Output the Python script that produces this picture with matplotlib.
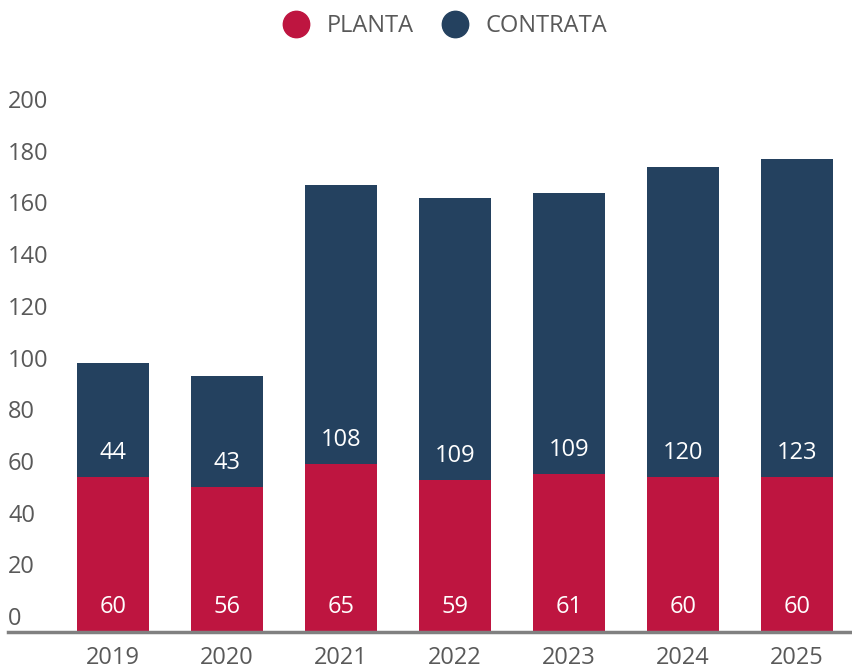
import matplotlib
matplotlib.use("Agg")
import matplotlib.pyplot as plt
from matplotlib.lines import Line2D
from matplotlib import transforms

plt.rcParams['font.family'] = ['Open Sans', 'DejaVu Sans']

years = ["2019", "2020", "2021", "2022", "2023", "2024", "2025"]
planta = [60, 56, 65, 59, 61, 60, 60]
contrata = [44, 43, 108, 109, 109, 120, 123]
yticks = [0, 20, 40, 60, 80, 100, 120, 140, 160, 180, 200]

RED = "#BE1540"
NAVY = "#24415F"
GRAY = "#595959"
FS = 17

fig = plt.figure(figsize=(8.53, 6.70), dpi=100)
ax = fig.add_axes([0.0094, 0.0567, 0.9906, 0.7716])

x = list(range(len(years)))
w = 0.63
ax.bar(x, planta, width=w, color=RED)
ax.bar(x, contrata, width=w, bottom=planta, color=NAVY)

for i in x:
    ax.annotate(str(planta[i]), (i, 0), xytext=(0, 25), textcoords="offset pixels",
                ha="center", va="center", color="white", fontsize=FS)
    ax.annotate(str(contrata[i]), (i, planta[i]), xytext=(0, 24), textcoords="offset pixels",
                ha="center", va="center", color="white", fontsize=FS)

ax.set_xlim(-0.92, 6.49)
ax.set_ylim(0, 200)
ax.set_xticks(x)
ax.set_xticklabels(years, fontsize=FS, color=GRAY)
ax.tick_params(axis="x", length=0, pad=10)
ax.set_yticks([])

trans = transforms.blended_transform_factory(ax.transAxes, ax.transData)
for v in yticks:
    ax.annotate(str(v), (0, v), xycoords=trans, xytext=(0, 7), textcoords="offset pixels",
                ha="left", va="baseline", color=GRAY, fontsize=FS)

for s in ["top", "right", "left"]:
    ax.spines[s].set_visible(False)
ax.spines["bottom"].set_color("#808080")
ax.spines["bottom"].set_linewidth(2.5)

handles = [Line2D([], [], marker="o", linestyle="", markersize=19, color=RED),
           Line2D([], [], marker="o", linestyle="", markersize=19, color=NAVY)]
fig.legend(handles, ["PLANTA", "CONTRATA"], loc="center", bbox_to_anchor=(0.516, 0.961),
           ncol=2, frameon=False, fontsize=FS, labelcolor=GRAY, handletextpad=0.3,
           columnspacing=0.75)

fig.savefig("out.png", dpi=100)
